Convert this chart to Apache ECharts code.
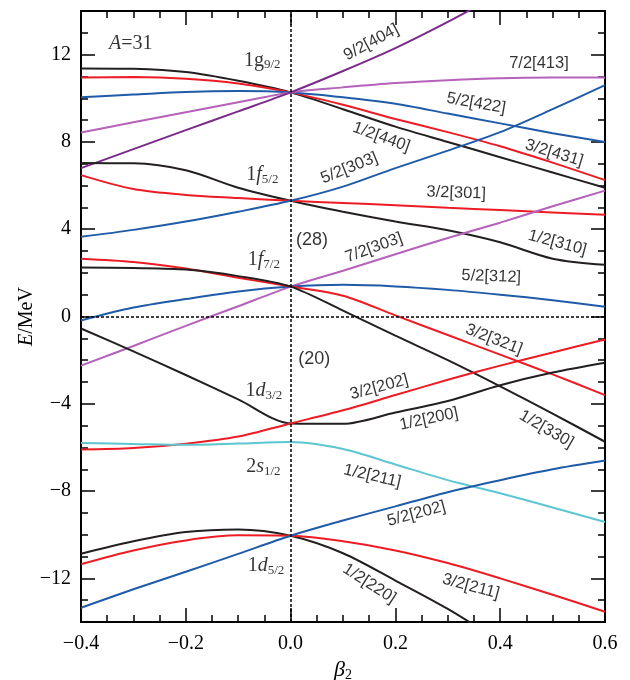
<!DOCTYPE html>
<html>
<head>
<meta charset="utf-8">
<script src="https://cdn.jsdelivr.net/npm/echarts@6/dist/echarts.min.js"></script>
<style>
  html, body { margin: 0; padding: 0; background: #fff; }
  #main { width: 630px; height: 680px; }
</style>
</head>
<body>
<div id="main"></div>
<script>
// deformation grid (beta2)
var beta = [-0.4, -0.3, -0.2, -0.1, 0.0, 0.1, 0.2, 0.3, 0.4, 0.5, 0.6];

// 1g9/2
var g440 = [11.37, 11.35, 11.2, 10.8, 10.27, 9.5, 8.7, 8.0, 7.3, 6.6, 5.9];
var g431 = [10.95, 10.97, 10.9, 10.68, 10.27, 9.7, 9.05, 8.45, 7.8, 7.05, 6.25];
var g422 = [10.05, 10.17, 10.29, 10.33, 10.27, 10.05, 9.75, 9.3, 8.85, 8.4, 8.0];
var g413 = [8.43, 8.9, 9.36, 9.82, 10.27, 10.5, 10.7, 10.83, 10.92, 10.95, 10.95];
var g404 = [6.8, 7.67, 8.54, 9.4, 10.27, 11.25, 12.3, 13.5, 14.8, null, null];
// 1f5/2
var f310 = [7.03, 7.02, 6.7, 5.9, 5.3, 4.8, 4.35, 3.95, 3.4, 2.65, 2.37];
var f301 = [6.48, 5.84, 5.57, 5.43, 5.3, 5.2, 5.1, 4.98, 4.88, 4.77, 4.66];
var f303b = [3.65, 3.97, 4.35, 4.8, 5.3, 5.95, 6.8, 7.6, 8.45, 9.5, 10.6];
// 1f7/2
var f303 = [-2.25, -1.35, -0.43, 0.47, 1.37, 2.1, 2.85, 3.6, 4.3, 5.05, 5.77];
var f312 = [-0.18, 0.41, 0.8, 1.15, 1.37, 1.45, 1.38, 1.22, 1.0, 0.75, 0.45];
var f321 = [2.65, 2.5, 2.2, 1.78, 1.37, 0.95, 0.05, -0.85, -1.75, -2.65, -3.6];
var f330 = [2.25, 2.22, 2.15, 1.85, 1.37, 0.27, -0.88, -2.0, -3.2, -4.45, -5.74];
// 1d3/2
var d200 = [-0.55, -1.6, -2.68, -3.8, -4.9, -4.92, -4.4, -3.87, -3.15, -2.57, -2.12];
var d202r = [-6.1, -6.03, -5.83, -5.5, -4.9, -4.3, -3.6, -2.9, -2.25, -1.65, -1.05];
// 2s1/2
var s211 = [-5.8, -5.84, -5.88, -5.82, -5.75, -6.07, -6.78, -7.5, -8.1, -8.75, -9.42];
// 1d5/2
var d220 = [-10.87, -10.3, -9.88, -9.76, -10.05, -10.85, -12.1, -13.4, -14.9, null, null];
var d211 = [-11.35, -10.72, -10.26, -10.03, -10.05, -10.3, -10.72, -11.3, -12.0, -12.75, -13.53];
var d202 = [-13.35, -12.5, -11.7, -10.88, -10.05, -9.35, -8.7, -8.05, -7.5, -7.0, -6.6];

// axis ticks
var yTicks = [-12, -8, -4, 0, 4, 8, 12];

// Nilsson labels: [beta, E, rotate, text]
var orbitLabels = [
  [0.154, 12.56, 28, '9/2[404]'],
  [0.474, 11.6, 0, '7/2[413]'],
  [0.354, 9.77, -10, '5/2[422]'],
  [0.173, 8.22, -20, '1/2[440]'],
  [0.503, 7.49, -17, '3/2[431]'],
  [0.112, 6.8, 22, '5/2[303]'],
  [0.316, 5.66, -2, '3/2[301]'],
  [0.159, 3.15, 20, '7/2[303]'],
  [0.509, 3.38, -15, '1/2[310]'],
  [0.383, 1.83, -2, '5/2[312]'],
  [0.388, -1.05, -21, '3/2[321]'],
  [0.169, -3.24, 15, '3/2[202]'],
  [0.264, -4.7, 12, '1/2[200]'],
  [0.488, -5.16, -30, '1/2[330]'],
  [0.156, -7.31, -13, '1/2[211]'],
  [0.24, -9.04, 15, '5/2[202]'],
  [0.15, -12.24, -33, '1/2[220]'],
  [0.344, -12.37, -15, '3/2[211]']
];
var magicLabels = [
  [0.041, 3.52, '(28)'],
  [0.045, -1.96, '(20)']
];
// spherical shell labels: [beta, E, rich text]
var shellLabels = [
  [-0.054, 11.74, '1g{s|9/2}'],
  [-0.054, 6.48, '1{i|f}{s|5/2}'],
  [-0.051, 2.6, '1{i|f}{s|7/2}'],
  [-0.051, -3.42, '1{i|d}{s|3/2}'],
  [-0.052, -6.89, '2{i|s}{s|1/2}'],
  [-0.047, -11.42, '1{i|d}{s|5/2}'],
  [-0.305, 12.51, '{i|A}=31']
];

var BLACK = '#231f20', RED = '#ed1c24', BLUE = '#1f5ba8', LPUR = '#b562ba',
    DPUR = '#7a2b8a', CYAN = '#5cc6d2';

var levels = [
  [g440, BLACK], [g431, RED], [g422, BLUE], [g413, LPUR], [g404, DPUR],
  [f310, BLACK], [f301, RED], [f303b, BLUE],
  [f303, LPUR], [f312, BLUE], [f321, RED], [f330, BLACK],
  [d200, BLACK], [d202r, RED], [s211, CYAN],
  [d220, BLACK], [d211, RED], [d202, BLUE]
];

var serif = 'Liberation Serif';
var sans = 'Liberation Sans';
var subRich = {
  s: { fontFamily: serif, fontSize: 13, lineHeight: 12, verticalAlign: 'bottom', color: '#000' },
  i: { fontFamily: serif, fontSize: 20, fontStyle: 'italic', lineHeight: 22, color: '#000' }
};

var series = levels.map(function (lv) {
  return {
    type: 'line',
    data: beta.map(function (b, i) { return [b, lv[0][i]]; }),
    smooth: 0.3,
    symbol: 'none',
    clip: true,
    lineStyle: { color: lv[1], width: 2 },
    z: 3
  };
});

// dashed reference lines at beta=0 and E=0
series.push({
  type: 'line',
  data: [],
  markLine: {
    silent: true,
    symbol: 'none',
    label: { show: false },
    lineStyle: { type: [3, 2], color: '#000', width: 1.5 },
    data: [{ xAxis: 0 }, { yAxis: 0 }]
  },
  z: 2
});

function textSeries(items, makeLabel) {
  return {
    type: 'scatter',
    symbolSize: 1,
    itemStyle: { color: 'rgba(0,0,0,0)' },
    z: 5,
    data: items.map(function (d) {
      return { value: [d[0], d[1]], label: makeLabel(d) };
    })
  };
}

series.push(textSeries(orbitLabels, function (d) {
  return { show: true, position: 'inside', rotate: d[2], formatter: d[3],
    fontFamily: sans, fontSize: 16.5, color: '#000' };
}));
series.push(textSeries(magicLabels, function (d) {
  return { show: true, position: 'inside', formatter: d[2],
    fontFamily: sans, fontSize: 18, color: '#000' };
}));
series.push(textSeries(shellLabels, function (d) {
  return { show: true, position: 'inside', formatter: d[2],
    fontFamily: serif, fontSize: 20, lineHeight: 22, color: '#000', rich: subRich };
}));

function fmt(v, dec) {
  var s = Math.abs(v).toFixed(dec);
  return (v < 0 ? '\u2212' : '') + s;
}

var tickLine = { color: '#000', width: 1.5 };

var myChart = echarts.init(document.getElementById('main'));
myChart.setOption({
  animation: false,
  backgroundColor: '#fff',
  grid: {
    left: 81, right: 25, top: 11, bottom: 58,
    containLabel: false, outerBoundsMode: 'none',
    show: true, borderColor: '#000', borderWidth: 2, backgroundColor: 'transparent'
  },
  xAxis: [{
    type: 'value', min: -0.4, max: 0.6, interval: 0.2, position: 'bottom',
    axisLine: { show: false, onZero: false },
    axisTick: { inside: true, length: 14, lineStyle: tickLine },
    minorTick: { show: true, splitNumber: 4, length: 7, lineStyle: tickLine },
    splitLine: { show: false },
    axisLabel: {
      margin: 12, fontFamily: serif, fontSize: 20, color: '#000',
      formatter: function (v) { return fmt(v, 1); }
    },
    name: '{i|\u03b2}{s|2}', nameLocation: 'middle', nameGap: 36, nameMoveOverlap: false,
    nameTextStyle: {
      rich: {
        i: { fontFamily: serif, fontSize: 22, fontStyle: 'italic', lineHeight: 24, color: '#000' },
        s: { fontFamily: serif, fontSize: 14, lineHeight: 12, verticalAlign: 'bottom', color: '#000' }
      }
    }
  }, {
    type: 'value', min: -0.4, max: 0.6, interval: 0.2, position: 'top',
    axisLine: { show: false, onZero: false },
    axisTick: { inside: true, length: 14, lineStyle: tickLine },
    minorTick: { show: true, splitNumber: 4, length: 7, lineStyle: tickLine },
    splitLine: { show: false },
    axisLabel: { show: false }
  }],
  yAxis: [{
    type: 'value', min: -14, max: 14, interval: 1, position: 'left',
    axisLine: { show: false, onZero: false },
    axisTick: { inside: true, length: 7, lineStyle: tickLine },
    splitLine: { show: false },
    axisLabel: { show: false }
  }, {
    type: 'value', min: -14, max: 14, position: 'left',
    axisLine: { show: false, onZero: false },
    axisTick: { inside: true, length: 14, lineStyle: tickLine, customValues: yTicks },
    splitLine: { show: false },
    axisLabel: {
      customValues: yTicks, margin: 10, fontFamily: serif, fontSize: 20, color: '#000',
      formatter: function (v) { return fmt(v, 0); }
    },
    name: '{i|E}/MeV', nameLocation: 'middle', nameGap: 44, nameRotate: 90,
    nameMoveOverlap: false,
    nameTextStyle: {
      fontFamily: serif, fontSize: 20, color: '#000',
      rich: { i: { fontFamily: serif, fontSize: 20, fontStyle: 'italic', color: '#000' } }
    }
  }, {
    type: 'value', min: -14, max: 14, interval: 1, position: 'right',
    axisLine: { show: false, onZero: false },
    axisTick: { inside: true, length: 7, lineStyle: tickLine },
    splitLine: { show: false },
    axisLabel: { show: false }
  }, {
    type: 'value', min: -14, max: 14, position: 'right',
    axisLine: { show: false, onZero: false },
    axisTick: { inside: true, length: 14, lineStyle: tickLine, customValues: yTicks },
    splitLine: { show: false },
    axisLabel: { show: false }
  }],
  series: series
});
</script>
</body>
</html>
